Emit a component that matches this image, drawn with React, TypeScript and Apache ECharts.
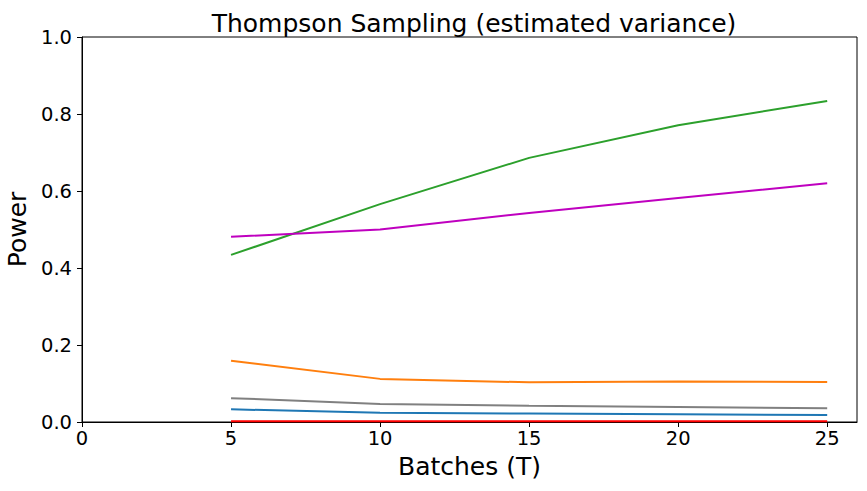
import React, { useEffect, useRef } from "react";
import * as echarts from "echarts";

const batches = [5, 10, 15, 20, 25];
const blueSeries = [0.033, 0.024, 0.022, 0.02, 0.018];
const orangeSeries = [0.159, 0.112, 0.103, 0.105, 0.104];
const greenSeries = [0.434, 0.566, 0.686, 0.771, 0.834];
const magentaSeries = [0.481, 0.5, 0.543, 0.582, 0.62];
const graySeries = [0.062, 0.047, 0.042, 0.039, 0.036];
const redSeries = [0.002, 0.002, 0.002, 0.002, 0.002];
const xTicks = [0, 5, 10, 15, 20, 25];
const yTicks = [0, 0.2, 0.4, 0.6, 0.8, 1.0];

const FONT = "DejaVu Sans";

export default function App() {
  const ref = useRef<HTMLDivElement>(null);
  useEffect(() => {
    if (!ref.current) return;
    const chart = echarts.init(ref.current, undefined, { renderer: "svg" });
    const mk = (name: string, data: number[], color: string) => ({
      name,
      type: "line",
      data: batches.map((b, i) => [b, data[i]]),
      showSymbol: false,
      symbol: "none",
      lineStyle: { color, width: 2 },
      itemStyle: { color },
    });
    chart.setOption({
      animation: false,
      backgroundColor: "#ffffff",
      textStyle: { fontFamily: FONT },
      title: {
        text: "Thompson Sampling (estimated variance)",
        left: 469,
        textAlign: "center",
        top: 6,
        textStyle: { fontFamily: FONT, fontSize: 25, fontWeight: "normal", color: "#000" },
      },
      grid: {
        left: 82,
        right: 10,
        top: 37,
        bottom: 69,
        containLabel: false,
        outerBoundsMode: "none",
        show: true,
        borderColor: "#000",
        borderWidth: 1,
        backgroundColor: "transparent",
      },
      xAxis: {
        type: "value",
        min: 0,
        max: 26,
        interval: 5,
        name: "Batches (T)",
        nameLocation: "middle",
        nameGap: 32,
        nameTextStyle: { fontFamily: FONT, fontSize: 25, color: "#000" },
        axisLine: { show: true, onZero: false, lineStyle: { color: "#000", width: 1 } },
        axisTick: { show: true, length: 5, lineStyle: { color: "#000" }, customValues: xTicks },
        axisLabel: { fontFamily: FONT, fontSize: 19.5, color: "#000", margin: 6, customValues: xTicks },
        splitLine: { show: false },
      },
      yAxis: {
        type: "value",
        min: 0,
        max: 1,
        interval: 0.2,
        name: "Power",
        nameLocation: "middle",
        nameGap: 43,
        nameTextStyle: { fontFamily: FONT, fontSize: 25, color: "#000" },
        axisLine: { show: true, onZero: false, lineStyle: { color: "#000", width: 1 } },
        axisTick: { show: true, length: 5, lineStyle: { color: "#000" }, customValues: yTicks },
        axisLabel: {
          fontFamily: FONT,
          fontSize: 19.5,
          color: "#000",
          margin: 10,
          customValues: yTicks,
          formatter: (v: number) => v.toFixed(1),
        },
        splitLine: { show: false },
      },
      series: [
        mk("blue", blueSeries, "#1f77b4"),
        mk("orange", orangeSeries, "#ff7f0e"),
        mk("green", greenSeries, "#2ca02c"),
        mk("magenta", magentaSeries, "#bf00bf"),
        mk("gray", graySeries, "#808080"),
        mk("red", redSeries, "#ff0000"),
      ],
    });
    return () => chart.dispose();
  }, []);
  return (
    <div
      ref={ref}
      style={{ position: "fixed", left: 0, top: 0, width: 867, height: 491, background: "#fff" }}
    />
  );
}
